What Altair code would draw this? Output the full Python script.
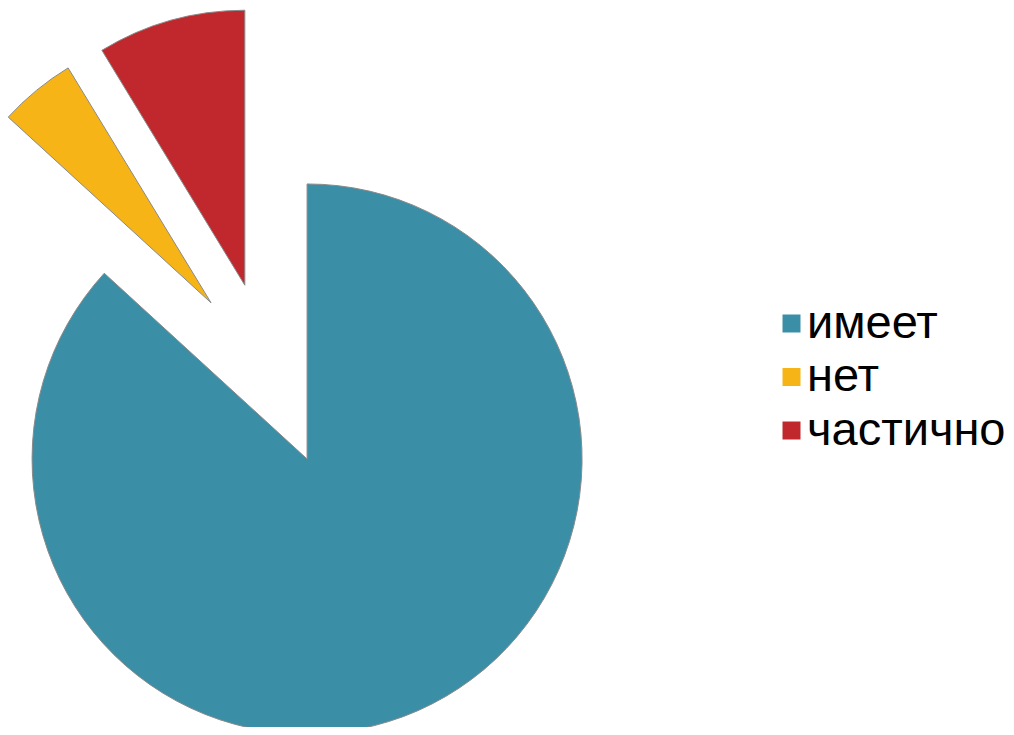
import altair as alt
import pandas as pd

categories = ["имеет", "нет", "частично"]
values = [86.8, 4.5, 8.7]
order = [0, 1, 2]
colors = ["#3A8FA6", "#F7B416", "#C0282D"]

df = pd.DataFrame({"cat": categories, "val": values, "order": order})

CX, CY, EXPLODE, R = 261.8, 366.3, 92.5, 275

chart = (
    alt.Chart(df)
    .transform_joinaggregate(total="sum(val)")
    .transform_window(cum="sum(val)", sort=[alt.SortField("order")], frame=[None, 0])
    .transform_calculate(
        t1="datum.cum / datum.total * 2 * PI",
        t0="(datum.cum - datum.val) / datum.total * 2 * PI",
    )
    .transform_calculate(mid="(datum.t0 + datum.t1) / 2")
    .transform_calculate(
        px=f"{CX} + {EXPLODE} * sin(datum.mid)",
        py=f"{CY} - {EXPLODE} * cos(datum.mid)",
    )
    .mark_arc(outerRadius=R, stroke="#8a8a8a", strokeWidth=1)
    .encode(
        x=alt.X("px:Q", scale=None, axis=None),
        y=alt.Y("py:Q", scale=None, axis=None),
        theta=alt.Theta("t0:Q", scale=None, stack=None),
        theta2=alt.Theta2("t1:Q"),
        color=alt.Color(
            "cat:N",
            scale=alt.Scale(domain=categories, range=colors),
            legend=alt.Legend(
                title=None,
                orient="none",
                legendX=760,
                legendY=292,
                symbolType="square",
                symbolSize=324,
                symbolStrokeWidth=0,
                labelFontSize=47,
                labelFont="Liberation Sans",
                labelColor="black",
                labelOffset={"expr": "-8"},
                rowPadding=5.5,
                labelLimit=400,
            ),
        ),
        order=alt.Order("order:Q"),
    )
    .properties(width=998, height=719, autosize=alt.AutoSizeParams(type="none"), padding=0)
    .configure_view(stroke=None)
)

chart.save("out.html", embed_options={"renderer": "svg", "actions": False})
